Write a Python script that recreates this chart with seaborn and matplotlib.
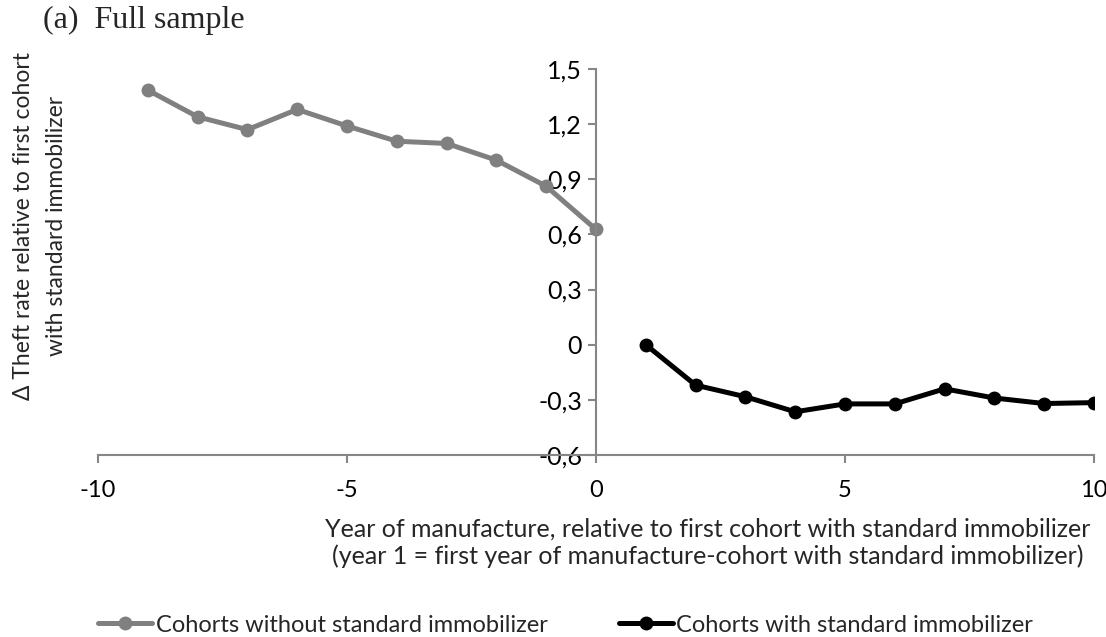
import matplotlib
matplotlib.use("Agg")
import matplotlib.pyplot as plt
import seaborn as sns
import pandas as pd
from matplotlib.ticker import FuncFormatter

# values
years_without = [-9, -8, -7, -6, -5, -4, -3, -2, -1, 0]
theft_without = [1.385, 1.24, 1.17, 1.28, 1.19, 1.107, 1.095, 1.004, 0.862, 0.627]
years_with = [1, 2, 3, 4, 5, 6, 7, 8, 9, 10]
theft_with = [0.0, -0.22, -0.283, -0.365, -0.322, -0.322, -0.24, -0.29, -0.32, -0.315]

x_ticks = [-10, -5, 0, 5, 10]
y_ticks = [-0.6, -0.3, 0, 0.3, 0.6, 0.9, 1.2, 1.5]

LBL_WITHOUT = "Cohorts without standard immobilizer"
LBL_WITH = "Cohorts with standard immobilizer"
GRAY = "#808080"
SPINE = "#868686"

sns.set_style("white")
plt.rcParams["font.family"] = ["Lato", "DejaVu Sans"]

df = pd.concat([
    pd.DataFrame({"Year": years_without, "Theft": theft_without, "Cohort": LBL_WITHOUT}),
    pd.DataFrame({"Year": years_with, "Theft": theft_with, "Cohort": LBL_WITH}),
])

fig = plt.figure(figsize=(11.06, 6.37), dpi=100)
ax = fig.add_axes([98 / 1106, 1 - 455 / 637, (1094 - 98) / 1106, (455 - 69) / 637])

sns.lineplot(data=df, x="Year", y="Theft", hue="Cohort",
             palette={LBL_WITHOUT: GRAY, LBL_WITH: "black"},
             marker="o", markersize=10, markeredgewidth=0, linewidth=3.6,
             ax=ax)

ax.set_xlim(-10, 10)
ax.set_ylim(-0.6, 1.5)
ax.set_xticks(x_ticks)
ax.set_yticks(y_ticks)
ax.xaxis.set_major_formatter(FuncFormatter(lambda v, p: f"{v:g}"))
ax.yaxis.set_major_formatter(FuncFormatter(lambda v, p: "0" if abs(v) < 1e-9 else f"{v:.1f}".replace(".", ",")))

for s in ["top", "right"]:
    ax.spines[s].set_visible(False)
ax.spines["left"].set_position(("data", 0))
for s in ["left", "bottom"]:
    ax.spines[s].set_color(SPINE)
    ax.spines[s].set_linewidth(1.5)
ax.tick_params(axis="both", direction="out", length=6, width=1.5, color=SPINE,
               labelsize=18, labelcolor="black", left=True, bottom=True)
ax.tick_params(axis="y", pad=4)
ax.tick_params(axis="x", pad=12, labelsize=17)
ax.set_xlabel("")
ax.set_ylabel("")

fig.text(708 / 1106, 1 - 543 / 637,
         "Year of manufacture, relative to first cohort with standard immobilizer\n"
         "(year 1 = first year of manufacture-cohort with standard immobilizer)",
         ha="center", va="center", fontsize=18, linespacing=1.2)

fig.text(40 / 1106, 1 - 226 / 637,
         "\u0394 Theft rate relative to first cohort\nwith standard immobilizer",
         rotation=90, ha="center", va="center", fontsize=16.5, linespacing=1.7)

fig.text(43 / 1106, 1 - 20 / 637, "(a)  Full sample", ha="left", va="center",
         fontsize=23, family=["Liberation Serif", "DejaVu Serif"])

handles, labels = ax.get_legend_handles_labels()
ax.legend(handles, labels, loc="center left", bbox_to_anchor=(98 / 1106, 1 - 625 / 637),
          bbox_transform=fig.transFigure, ncol=2, frameon=False, fontsize=17,
          borderpad=0, borderaxespad=0, handlelength=2.3, handletextpad=0.15,
          columnspacing=3.0)

fig.savefig("out.png", dpi=100)
